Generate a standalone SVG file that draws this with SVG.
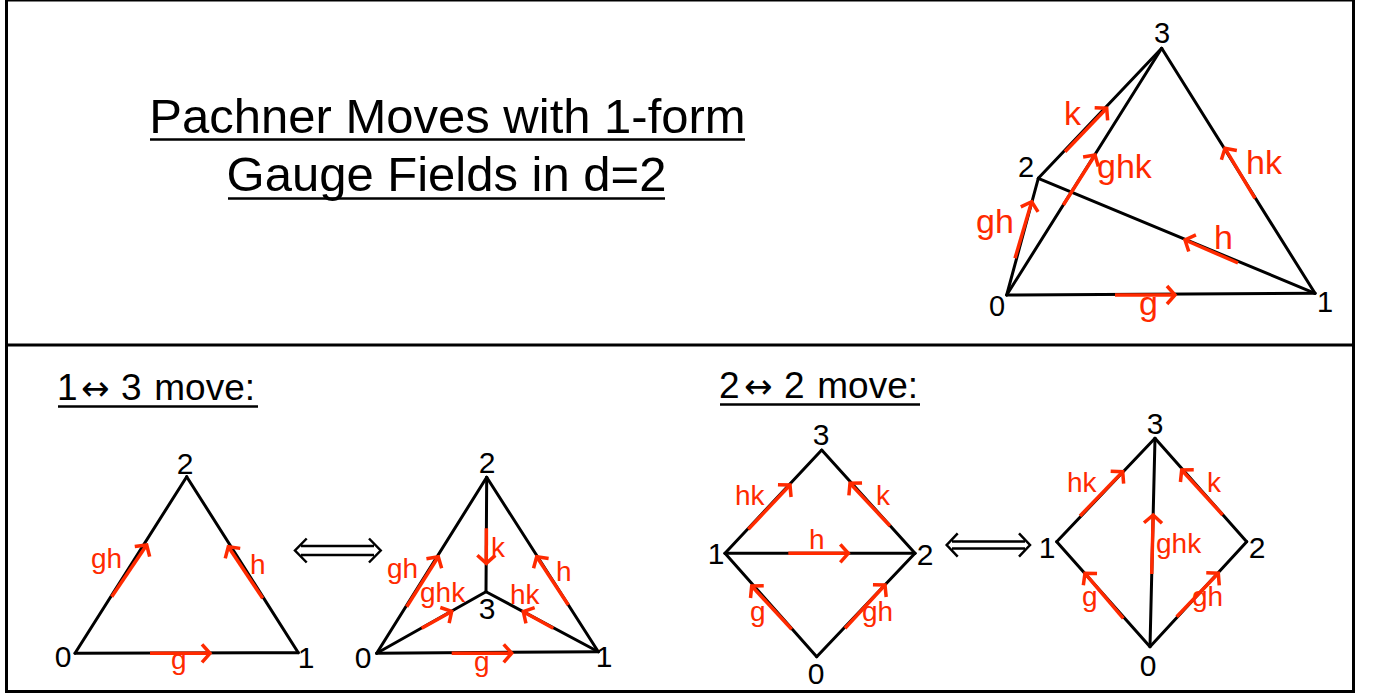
<svg xmlns="http://www.w3.org/2000/svg" width="1373" height="694" viewBox="0 0 1373 694">
<style>
.frame{fill:none;stroke:#000;stroke-width:3}
.e{stroke:#000;stroke-width:3;fill:none;stroke-linecap:round}
.r{stroke:#ff2a00;stroke-width:3.5;fill:none;marker-end:url(#ah)}
.dbl{stroke:#000;stroke-width:2.5;fill:none}
.v{font-family:"Liberation Sans",Arial,sans-serif;font-size:30px;fill:#000;text-anchor:middle}
.vt{font-family:"Liberation Sans",Arial,sans-serif;font-size:29px;fill:#000;text-anchor:middle}
.lt{font-family:"Liberation Sans",Arial,sans-serif;font-size:34px;fill:#ff2a00}
.lb{font-family:"Liberation Sans",Arial,sans-serif;font-size:28px;fill:#ff2a00}
.title{font-family:"Liberation Sans",Arial,sans-serif;font-size:49px;fill:#000;text-anchor:middle}
.hd{font-family:"Liberation Sans",Arial,sans-serif;font-size:37px;fill:#000}
.ar{font-family:"DejaVu Sans",sans-serif;font-size:34px}
.ul{stroke:#000;stroke-width:2.5}
</style>
<defs>
<marker id="ah" markerUnits="userSpaceOnUse" viewBox="-14 -14 28 28" markerWidth="28" markerHeight="28" refX="0" refY="0" orient="auto" overflow="visible">
<path d="M-8,-9 L0,0 L-8,9" fill="none" stroke="#ff2a00" stroke-width="3.5"/>
</marker>
</defs>
<rect width="1373" height="694" fill="#fff"/>
<g id="frame">
<rect class="frame" x="6.5" y="0" width="1347" height="691.5"/>
<line class="frame" x1="6.5" y1="345" x2="1353.5" y2="345"/>
</g>
<g id="title">
<text class="title" x="447.5" y="133">Pachner Moves with 1-form</text>
<line class="ul" x1="150" y1="139.5" x2="745" y2="139.5"/>
<text class="title" x="446.5" y="191">Gauge Fields in d=2</text>
<line class="ul" x1="228" y1="198.5" x2="665" y2="198.5"/>
</g>
<g id="headers">
<text class="hd" y="400"><tspan x="57">1</tspan><tspan x="81" class="ar">↔</tspan><tspan x="121">3</tspan><tspan x="144"> move:</tspan></text>
<line class="ul" x1="58" y1="406.5" x2="258" y2="406.5"/>
<text class="hd" y="398"><tspan x="719">2</tspan><tspan x="744" class="ar">↔</tspan><tspan x="784">2</tspan><tspan x="807"> move:</tspan></text>
<line class="ul" x1="720" y1="404.5" x2="920" y2="404.5"/>
</g>
<g id="connectors">
<!-- tetrahedron -->
<line class="e" x1="1006.7" y1="295" x2="1315" y2="293.3"/>
<line class="e" x1="1006.7" y1="295" x2="1038.3" y2="178.3"/>
<line class="e" x1="1006.7" y1="295" x2="1161.7" y2="48.3"/>
<line class="e" x1="1315" y1="293.3" x2="1038.3" y2="178.3"/>
<line class="e" x1="1315" y1="293.3" x2="1161.7" y2="48.3"/>
<line class="e" x1="1038.3" y1="178.3" x2="1161.7" y2="48.3"/>
<line class="r" x1="1065" y1="151.7" x2="1106.7" y2="108.3"/>
<line class="r" x1="1063.3" y1="205" x2="1095" y2="155"/>
<line class="r" x1="1015" y1="258.3" x2="1031.7" y2="201.7"/>
<line class="r" x1="1255" y1="198.3" x2="1225" y2="148.3"/>
<line class="r" x1="1238" y1="263" x2="1185" y2="240"/>
<line class="r" x1="1115" y1="295" x2="1175" y2="295"/>
<!-- 1-3 left triangle -->
<line class="e" x1="75" y1="653.3" x2="298.3" y2="652.7"/>
<line class="e" x1="75" y1="653.3" x2="186.7" y2="476.7"/>
<line class="e" x1="298.3" y1="652.7" x2="186.7" y2="476.7"/>
<line class="r" x1="111.7" y1="596.7" x2="146.7" y2="545"/>
<line class="r" x1="262.7" y1="598.3" x2="228.3" y2="546.7"/>
<line class="r" x1="150" y1="653.3" x2="210" y2="653.3"/>
<!-- 1-3 right triangle -->
<line class="e" x1="376.7" y1="653.3" x2="598.3" y2="651.7"/>
<line class="e" x1="376.7" y1="653.3" x2="486.7" y2="477.3"/>
<line class="e" x1="598.3" y1="651.7" x2="486.7" y2="477.3"/>
<line class="e" x1="486.7" y1="477.3" x2="486" y2="591.7"/>
<line class="e" x1="376.7" y1="653.3" x2="486" y2="591.7"/>
<line class="e" x1="598.3" y1="651.7" x2="486" y2="591.7"/>
<line class="r" x1="406.7" y1="606.7" x2="438.3" y2="556.7"/>
<line class="r" x1="486.4" y1="528.3" x2="486.3" y2="563.3"/>
<line class="r" x1="568.3" y1="605" x2="536.7" y2="556.7"/>
<line class="r" x1="421.7" y1="628.3" x2="451.7" y2="611.4"/>
<line class="r" x1="553.3" y1="628.3" x2="523.3" y2="611.7"/>
<line class="r" x1="451.7" y1="653.3" x2="511.7" y2="653.3"/>
<!-- 2-2 left diamond -->
<line class="e" x1="725" y1="553.3" x2="821.7" y2="450"/>
<line class="e" x1="915" y1="553.3" x2="821.7" y2="450"/>
<line class="e" x1="725" y1="553.3" x2="915" y2="553.3"/>
<line class="e" x1="816.7" y1="656.7" x2="725" y2="553.3"/>
<line class="e" x1="816.7" y1="656.7" x2="915" y2="553.3"/>
<line class="r" x1="748.3" y1="529.3" x2="790" y2="485"/>
<line class="r" x1="890" y1="526" x2="850" y2="483.3"/>
<line class="r" x1="788.3" y1="553.3" x2="848.3" y2="553.3"/>
<line class="r" x1="791.7" y1="629.3" x2="751.7" y2="586"/>
<line class="r" x1="845" y1="628.3" x2="885" y2="585"/>
<!-- 2-2 right diamond -->
<line class="e" x1="1056.7" y1="541.7" x2="1155" y2="438.3"/>
<line class="e" x1="1246.7" y1="541.7" x2="1155" y2="438.3"/>
<line class="e" x1="1150" y1="646.7" x2="1155" y2="438.3"/>
<line class="e" x1="1150" y1="646.7" x2="1056.7" y2="541.7"/>
<line class="e" x1="1150" y1="646.7" x2="1246.7" y2="541.7"/>
<line class="r" x1="1080" y1="516" x2="1122.7" y2="471.7"/>
<line class="r" x1="1222.7" y1="515" x2="1181.7" y2="470"/>
<line class="r" x1="1151.7" y1="574" x2="1153.2" y2="515"/>
<line class="r" x1="1123.3" y1="618.3" x2="1085" y2="573.3"/>
<line class="r" x1="1176.7" y1="616.7" x2="1218.3" y2="573.3"/>
<!-- double arrows -->
<path class="dbl" d="M301,546 H374 M301,555 H374 M306.7,538.5 L295,550.5 L306.7,562.5 M369,538.5 L380.7,550.5 L369,562.5"/>
<path class="dbl" d="M952,541.5 H1025 M952,548.5 H1025 M957.7,533.3 L946.7,545 L957.7,556.7 M1019,533.3 L1030,545 L1019,556.7"/>
</g>
<g id="tetra-labels">
<g id="t3"><text class="vt" x="1162" y="43">3</text></g>
<g id="t2"><text class="vt" x="1026" y="177">2</text></g>
<g id="t0"><text class="vt" x="997" y="316">0</text></g>
<g id="t1"><text class="vt" x="1325" y="312">1</text></g>
<text class="lt" x="1064" y="125">k</text>
<text class="lt" x="1097" y="178">ghk</text>
<text class="lt" x="976" y="233">gh</text>
<text class="lt" x="1246" y="174">hk</text>
<text class="lt" x="1214" y="249">h</text>
<text class="lt" x="1139" y="315">g</text>
</g>
<g id="tri-left">
<g id="a2"><text class="v" x="185" y="474">2</text></g>
<g id="a0"><text class="v" x="63" y="667">0</text></g>
<g id="a1"><text class="v" x="306" y="668">1</text></g>
<text class="lb" x="91" y="568">gh</text>
<text class="lb" x="250" y="574">h</text>
<text class="lb" x="171" y="669">g</text>
</g>
<g id="tri-right">
<g id="b2"><text class="v" x="487" y="473">2</text></g>
<g id="b0"><text class="v" x="363" y="668">0</text></g>
<g id="b1"><text class="v" x="604" y="667">1</text></g>
<g id="b3"><text class="v" x="487" y="619">3</text></g>
<text class="lb" x="387" y="578">gh</text>
<text class="lb" x="491" y="557">k</text>
<text class="lb" x="556" y="581">h</text>
<text class="lb" x="420" y="602">ghk</text>
<text class="lb" x="510" y="604">hk</text>
<text class="lb" x="474" y="671">g</text>
</g>
<g id="diamond-left">
<g id="c3"><text class="v" x="821" y="445">3</text></g>
<g id="c1"><text class="v" x="716" y="564">1</text></g>
<g id="c2"><text class="v" x="925" y="565">2</text></g>
<g id="c0"><text class="v" x="816" y="684">0</text></g>
<text class="lb" x="735" y="505">hk</text>
<text class="lb" x="876" y="505">k</text>
<text class="lb" x="809" y="549">h</text>
<text class="lb" x="750" y="621">g</text>
<text class="lb" x="862" y="621">gh</text>
</g>
<g id="diamond-right">
<g id="d3"><text class="v" x="1155" y="434">3</text></g>
<g id="d1"><text class="v" x="1047" y="558">1</text></g>
<g id="d2"><text class="v" x="1257" y="558">2</text></g>
<g id="d0"><text class="v" x="1148" y="676">0</text></g>
<text class="lb" x="1067" y="492">hk</text>
<text class="lb" x="1207" y="492">k</text>
<text class="lb" x="1156" y="553">ghk</text>
<text class="lb" x="1082" y="606">g</text>
<text class="lb" x="1192" y="606">gh</text>
</g>
</svg>
